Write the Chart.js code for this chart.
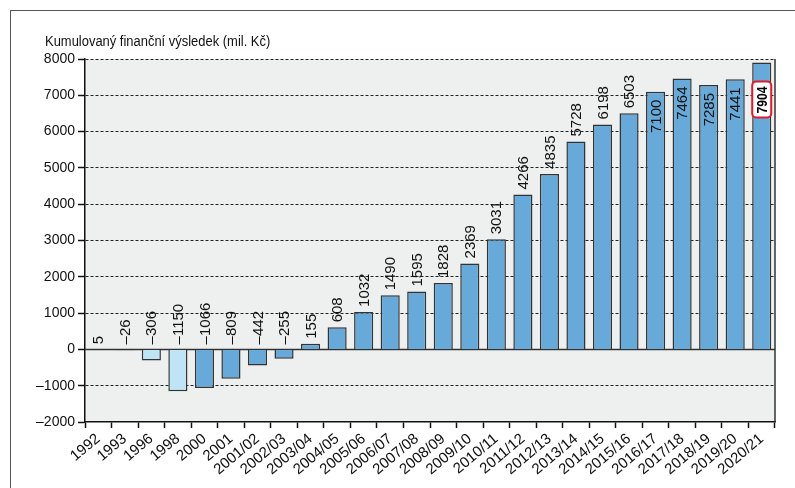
<!DOCTYPE html>
<html><head><meta charset="utf-8">
<script src="https://cdn.jsdelivr.net/npm/chart.js@4/dist/chart.umd.min.js"></script>
<style>
html,body{margin:0;padding:0;background:#fff;}
#wrap{position:relative;width:795px;height:488px;overflow:hidden;}
#frame{position:absolute;left:10px;top:10px;width:900px;height:600px;border:1.5px solid #555;box-sizing:border-box;}
canvas{position:absolute;left:0;top:0;}
</style></head>
<body><div id="wrap"><div id="frame"></div><canvas id="c" width="795" height="488"></canvas></div>
<script>
const categories = ["1992","1993","1996","1998","2000","2001","2001/02","2002/03","2003/04","2004/05","2005/06","2006/07","2007/08","2008/09","2009/10","2010/11","2011/12","2012/13","2013/14","2014/15","2015/16","2016/17","2017/18","2018/19","2019/20","2020/21"];
const values = [5,-26,-306,-1150,-1066,-809,-442,-255,155,608,1032,1490,1595,1828,2369,3031,4266,4835,5728,6198,6503,7100,7464,7285,7441,7904];
const valueLabels = ["5","–26","–306","–1150","–1066","–809","–442","–255","155","608","1032","1490","1595","1828","2369","3031","4266","4835","5728","6198","6503","7100","7464","7285","7441","7904"];
const yTicks = [-2000,-1000,0,1000,2000,3000,4000,5000,6000,7000,8000];
const titleText = "Kumulovaný finanční výsledek (mil. Kč)";

const FONT = "'Liberation Sans',Arial,sans-serif";
const lightIdx = [0,1,2,3];
const insideFrom = 21;
const highlightIdx = 25;

const colors = values.map((v,i)=> lightIdx.includes(i) ? '#bfe4f5' : '#67aad9');

const deco = {
  id:'deco',
  beforeDraw(chart){
    const {ctx, chartArea:a} = chart;
    ctx.save();
    ctx.fillStyle = '#eeefef';
    ctx.fillRect(a.left, a.top, a.right-a.left, a.bottom-a.top);
    ctx.fillStyle = '#111';
    ctx.font = "14px " + FONT;
    ctx.textBaseline = 'alphabetic';
    ctx.translate(45, 46);
    ctx.scale(0.925, 1);
    ctx.fillText(titleText, 0, 0);
    ctx.restore();
  },
  beforeDatasetsDraw(chart){
    const {ctx, chartArea:a, scales:{y}} = chart;
    const y0 = Math.round(y.getPixelForValue(0))+0.5;
    ctx.save();
    ctx.strokeStyle = '#333'; ctx.lineWidth = 1.5;
    ctx.beginPath(); ctx.moveTo(a.left,y0); ctx.lineTo(a.right,y0); ctx.stroke();
    ctx.beginPath(); ctx.moveTo(a.right,a.top); ctx.lineTo(a.right,a.bottom); ctx.stroke();
    ctx.restore();
  },
  afterDatasetsDraw(chart){
    const {ctx, scales:{y}} = chart;
    const meta = chart.getDatasetMeta(0);
    const y0 = y.getPixelForValue(0);
    ctx.save();
    ctx.fillStyle = '#111';
    meta.data.forEach((bar,i)=>{
      const v = values[i];
      const top = y.getPixelForValue(v);
      const txt = valueLabels[i];
      ctx.save();
      ctx.translate(bar.x, 0);
      ctx.rotate(-Math.PI/2);
      ctx.textBaseline = 'middle';
      if (i === highlightIdx) {
        ctx.font = "bold 15px " + FONT;
        ctx.beginPath();
        ctx.roundRect(-(top + 55), -9.5, 36, 19, 4);
        ctx.fillStyle = '#fff'; ctx.fill();
        ctx.strokeStyle = '#e0192b'; ctx.lineWidth = 2; ctx.stroke();
        ctx.fillStyle = '#000';
        ctx.textAlign = 'right';
        ctx.fillText(txt, -(top + 24), 1, 27);
      } else if (i >= insideFrom) {
        ctx.font = "15px " + FONT;
        ctx.textAlign = 'right';
        ctx.fillText(txt, -(top + 8), 1);
      } else {
        ctx.font = "15px " + FONT;
        ctx.textAlign = 'left';
        const base = Math.min(top, y0);
        ctx.fillText(txt, -(base - 5), 1);
      }
      ctx.restore();
    });
    ctx.restore();
  }
};

new Chart(document.getElementById('c'), {
  type:'bar',
  data:{ labels: categories, datasets:[{ data: values, backgroundColor: colors, borderColor:'#333', borderWidth:1.5, barPercentage:0.72, categoryPercentage:1 }]},
  options:{
    responsive:false, animation:false,
    layout:{ padding:{ left:0, right:20, top:59, bottom:0 } },
    plugins:{ legend:{display:false}, tooltip:{enabled:false}, title:{display:false} },
    scales:{
      x:{
        afterFit(s){ s.height = 66; },
        grid:{ offset:true, drawOnChartArea:false, drawTicks:true, tickLength:6, tickColor:'#111', tickWidth:1.5 },
        border:{ display:true, color:'#111', width:1.5 },
        ticks:{ color:'#111', font:{ family:FONT, size:15 }, maxRotation:40, minRotation:40, autoSkip:false, padding:2 }
      },
      y:{
        min:-2000, max:8000,
        afterFit(s){ s.width = 85; },
        afterBuildTicks(s){ s.ticks = yTicks.map(v=>({value:v})); },
        grid:{ color:(c)=> (c.tick && (c.tick.value===0 || c.tick.value===-2000)) ? 'rgba(0,0,0,0)' : '#222', lineWidth:1, tickColor:'#111', tickLength:7, tickWidth:1.5, tickBorderDash:[] },
        border:{ display:true, color:'#111', width:1.5, dash:[3,2] },
        ticks:{ color:'#111', font:{ family:FONT, size:14 }, padding:3, callback:(v)=> String(v).replace('-', '–') }
      }
    }
  },
  plugins:[deco]
});
</script></body></html>
